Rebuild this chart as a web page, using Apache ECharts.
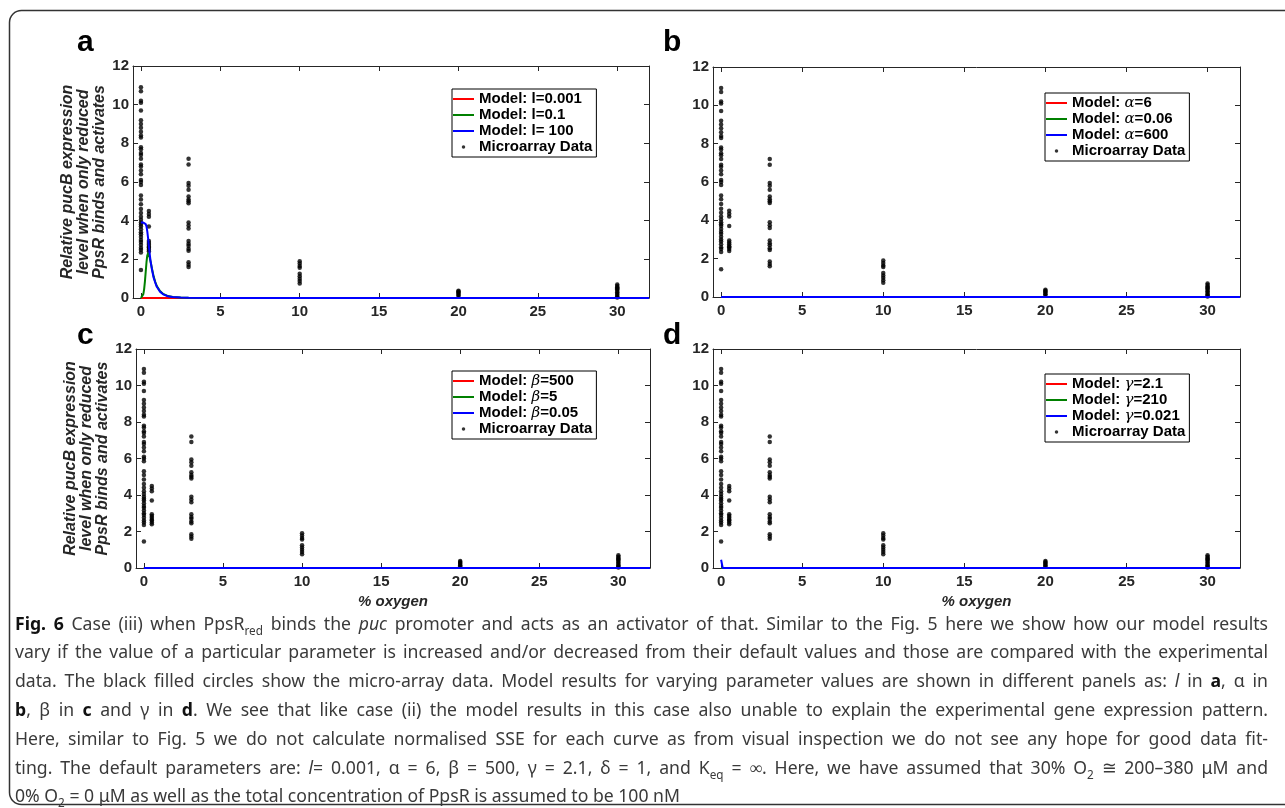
<!DOCTYPE html>
<html>
<head>
<meta charset="utf-8">
<script src="https://cdn.jsdelivr.net/npm/echarts@6/dist/echarts.min.js"></script>
<style>
html,body{margin:0;padding:0;background:#fff;}
#main{width:1285px;height:808px;}
</style>
</head>
<body>
<div id="main"></div>
<script>
// microarray data: relative pucB expression at each oxygen level (%)
var oxygenLevels = [0, 0.5, 3, 10, 20, 30];
var exprAt0 = [10.9, 10.7, 10.2, 10.1, 9.7, 9.2, 9.0, 8.8, 8.6, 8.4, 8.3, 7.8, 7.7, 7.5, 7.4, 7.2, 6.9, 6.8, 6.6, 6.4, 6.1, 6.0, 5.85, 5.3, 5.1, 4.85, 4.6, 4.4, 4.2, 4.05, 3.9, 3.8, 3.7, 3.55, 3.4, 3.3, 3.15, 3.0, 2.9, 2.75, 2.6, 2.5, 2.35, 1.45];
var exprAt05 = [4.5, 4.35, 4.2, 3.7, 2.95, 2.85, 2.75, 2.65, 2.6, 2.5, 2.4];
var exprAt3 = [7.2, 6.9, 5.95, 5.8, 5.6, 5.25, 5.1, 5.0, 4.9, 3.9, 3.75, 3.6, 2.95, 2.8, 2.7, 2.55, 2.45, 1.85, 1.72, 1.6];
var exprAt10 = [1.9, 1.78, 1.65, 1.56, 1.25, 1.12, 1.0, 0.88, 0.75];
var exprAt20 = [0.38, 0.33, 0.28, 0.22, 0.15, 0.1];
var exprAt30 = [0.7, 0.62, 0.55, 0.5, 0.45, 0.38, 0.3, 0.22, 0.15, 0.08, 0.03];
var exprLists = [exprAt0, exprAt05, exprAt3, exprAt10, exprAt20, exprAt30];

// model curves, panel a
var modelX = [0, 0.05, 0.1, 0.15, 0.2, 0.25, 0.3, 0.35, 0.4, 0.45, 0.5, 0.55, 0.6, 0.7, 0.8, 0.9, 1.0, 1.2, 1.4, 1.7, 2.0, 2.5, 3, 5, 10, 20, 32];
var aRed   = [0, 0, 0, 0, 0, 0, 0, 0, 0, 0, 0, 0, 0, 0, 0, 0, 0, 0, 0, 0, 0, 0, 0, 0, 0, 0, 0];
var aGreen = [0, 0.02, 0.08, 0.2, 0.45, 0.85, 1.35, 1.85, 2.2, 2.32, 2.25, 2.1, 1.9, 1.5, 1.12, 0.84, 0.62, 0.36, 0.21, 0.1, 0.05, 0.02, 0.01, 0, 0, 0, 0];
var aBlue  = [3.9, 3.9, 3.9, 3.9, 3.9, 3.88, 3.82, 3.7, 3.45, 3.1, 2.7, 2.3, 1.95, 1.45, 1.05, 0.8, 0.58, 0.33, 0.19, 0.09, 0.05, 0.02, 0.01, 0, 0, 0, 0];
// panels b, c, d: curves stay on zero
var flatX = [0, 0.1, 32];
var flatZero = [0, 0, 0];
var dBlue = [0.45, 0, 0];

var xTicks = [0, 5, 10, 15, 20, 25, 30];

var panels = [
  {names: ['Model: l=0.001', 'Model: l=0.1', 'Model: l= 100'],
   curves: [[modelX, aRed], [modelX, aGreen], [modelX, aBlue]]},
  {names: ['Model: α=6', 'Model: α=0.06', 'Model: α=600'],
   curves: [[flatX, flatZero], [flatX, flatZero], [flatX, flatZero]]},
  {names: ['Model: β=500', 'Model: β=5', 'Model: β=0.05'],
   curves: [[flatX, flatZero], [flatX, flatZero], [flatX, flatZero]]},
  {names: ['Model: γ=2.1', 'Model: γ=210', 'Model: γ=0.021'],
   curves: [[flatX, flatZero], [flatX, flatZero], [flatX, dBlue]]}
];
var lineColors = ['#ff0000', '#008000', '#0000ff'];

var grids = [
  {left: 133, top: 66, width: 516, height: 232},
  {left: 713, top: 67, width: 527, height: 230},
  {left: 136, top: 349, width: 514, height: 219},
  {left: 713, top: 349, width: 527, height: 219}
];
var legendPos = [[452, 89], [1045, 93], [452, 371], [1045, 374]];

var axisColor = '#262626';
var labelFont = {fontFamily: 'Liberation Sans', fontWeight: 'bold', fontSize: 15, color: axisColor};
var yName = 'Relative pucB expression\nlevel when only reduced\nPpsR binds and activates';
var lineIcon = 'path://M0,0 L21,0 L21,2 L0,2 Z';

var scatterData = [];
oxygenLevels.forEach(function (x, k) {
  exprLists[k].forEach(function (v) { scatterData.push([x, v]); });
});

var xAxes = [], yAxes = [], series = [], legends = [];
grids.forEach(function (g, i) {
  var common = {
    type: 'value', gridIndex: i, min: -0.5, max: 32,
    splitLine: {show: false},
    axisLine: {onZero: false, lineStyle: {color: axisColor, width: 1}},
    axisTick: {inside: true, length: 5, customValues: xTicks, lineStyle: {color: axisColor}}
  };
  var bottom = Object.assign({}, common, {
    position: 'bottom',
    axisLabel: Object.assign({customValues: xTicks, margin: 6}, labelFont)
  });
  if (i >= 2) {
    bottom.name = '% oxygen';
    bottom.nameLocation = 'middle';
    bottom.nameGap = 26;
    bottom.nameTextStyle = {fontFamily: 'Liberation Sans', fontWeight: 'bold', fontStyle: 'italic', fontSize: 15, color: axisColor};
  }
  xAxes.push(bottom);
  xAxes.push(Object.assign({}, common, {position: 'top', axisLabel: {show: false}}));

  var ycommon = {
    type: 'value', gridIndex: i, min: 0, max: 12, interval: 2,
    splitLine: {show: false},
    axisLine: {onZero: false, lineStyle: {color: axisColor, width: 1}},
    axisTick: {inside: true, length: 5, lineStyle: {color: axisColor}}
  };
  var left = Object.assign({}, ycommon, {
    position: 'left',
    axisLabel: Object.assign({margin: 4}, labelFont)
  });
  if (i === 0 || i === 2) {
    left.name = yName;
    left.nameLocation = 'middle';
    left.nameRotate = 90;
    left.nameGap = 25;
    left.nameTextStyle = {fontFamily: 'Liberation Sans', fontWeight: 'bold', fontStyle: 'italic', fontSize: 16, lineHeight: 16, color: axisColor};
  }
  yAxes.push(left);
  yAxes.push(Object.assign({}, ycommon, {position: 'right', axisLabel: {show: false}}));

  var p = panels[i];
  p.curves.forEach(function (c, k) {
    series.push({
      type: 'line', name: p.names[k],
      xAxisIndex: 2 * i, yAxisIndex: 2 * i,
      data: c[0].map(function (x, j) { return [x, c[1][j]]; }),
      symbol: 'none', showSymbol: false,
      lineStyle: {color: lineColors[k], width: 2},
      itemStyle: {color: lineColors[k]},
      animation: false
    });
  });
  series.push({
    type: 'scatter', name: 'Microarray Data',
    xAxisIndex: 2 * i, yAxisIndex: 2 * i,
    data: scatterData, symbolSize: 4.5,
    itemStyle: {color: '#000'},
    animation: false
  });

  var items = p.names.map(function (n) { return {name: n, icon: lineIcon}; });
  items.push({name: 'Microarray Data', icon: 'circle'});
  legends.push({
    orient: 'vertical', left: legendPos[i][0], top: legendPos[i][1],
    data: items,
    itemWidth: 21, itemHeight: 3.5, itemGap: 0,
    padding: [2, 4, 2, 1],
    borderColor: '#000', borderWidth: 1, borderRadius: 0,
    backgroundColor: '#fff',
    selectedMode: false,
    formatter: function (name) {
      return name.replace(/([αβγ])/, '{g|$1}');
    },
    textStyle: {
      fontFamily: 'Liberation Sans', fontWeight: 'bold', fontSize: 15, lineHeight: 16, color: '#000',
      rich: {g: {fontFamily: 'DejaVu Serif', fontStyle: 'italic', fontWeight: 'normal', fontSize: 15, lineHeight: 16, color: '#000'}}
    }
  });
});

// caption
var capSize = 18;
var capFamily = 'Noto Sans';
var capStyles = {
  n: {fontSize: capSize, fontWeight: 'normal', fontStyle: 'normal', fill: '#3a3a3a'},
  b: {fontSize: capSize, fontWeight: 'bold', fontStyle: 'normal', fill: '#111'},
  i: {fontSize: capSize, fontWeight: 'normal', fontStyle: 'italic', fill: '#3a3a3a'},
  s: {fontSize: 12, fontWeight: 'normal', fontStyle: 'normal', fill: '#3a3a3a', verticalAlign: 'bottom', lineHeight: 25}
};
var captionLines = [
  [['b', 'Fig. 6'], ['n', ' Case (iii) when PpsR'], ['s', 'red'], ['n', ' binds the '], ['i', 'puc'], ['n', ' promoter and acts as an activator of that. Similar to the Fig. 5 here we show how our model results']],
  [['n', 'vary if the value of a particular parameter is increased and/or decreased from their default values and those are compared with the experimental']],
  [['n', 'data. The black filled circles show the micro-array data. Model results for varying parameter values are shown in different panels as: '], ['i', 'l'], ['n', ' in '], ['b', 'a'], ['n', ', α in']],
  [['b', 'b'], ['n', ', β in '], ['b', 'c'], ['n', ' and γ in '], ['b', 'd'], ['n', '. We see that like case (ii) the model results in this case also unable to explain the experimental gene expression pattern.']],
  [['n', 'Here, similar to Fig. 5 we do not calculate normalised SSE for each curve as from visual inspection we do not see any hope for good data fit-']],
  [['n', 'ting. The default parameters are: '], ['i', 'l'], ['n', '= 0.001, α = 6, β = 500, γ = 2.1, δ = 1, and K'], ['s', 'eq'], ['n', ' = ∞. Here, we have assumed that 30% O'], ['s', '2'], ['n', ' ≅ 200–380 μM and']],
  [['n', '0% O'], ['s', '2'], ['n', ' = 0 μM as well as the total concentration of PpsR is assumed to be 100 nM']]
];
var captionY = [625, 653, 682, 711, 740, 769, 797];
var captionJustify = [true, true, true, true, true, true, false];
var captionFull = 1253;
var lastLineWidth = 665;

var ctx = document.createElement('canvas').getContext('2d');
function fontOf(s) { return s.fontStyle + ' ' + s.fontWeight + ' ' + s.fontSize + 'px "' + capFamily + '"'; }
function measureLine(segs) {
  var w = 0, spaces = 0;
  segs.forEach(function (sg) {
    ctx.font = fontOf(capStyles[sg[0]]);
    w += ctx.measureText(sg[1]).width;
    spaces += sg[1].split(' ').length - 1;
  });
  return {w: w, spaces: spaces};
}
ctx.font = fontOf(capStyles.n);
var spaceW = ctx.measureText(' ').width;
// common horizontal squeeze taken from the unjustified last line
var capScale = lastLineWidth / measureLine(captionLines[6]).w;

var graphics = [{
  type: 'rect', silent: true,
  shape: {x: 9.5, y: 10.5, width: 1300, height: 794, r: 12},
  style: {fill: 'none', stroke: '#333', lineWidth: 1.5}
}];
[['a', 77, 43], ['b', 663, 43], ['c', 77, 336], ['d', 663, 336]].forEach(function (t) {
  graphics.push({type: 'text', x: t[1], y: t[2], style: {text: t[0], font: 'bold 30px "Liberation Sans"', fill: '#000', verticalAlign: 'middle'}});
});
captionLines.forEach(function (segs, li) {
  var m = measureLine(segs);
  var sc = capScale, sp = spaceW;
  if (captionJustify[li]) {
    var extra = captionFull / sc - m.w;
    if (extra < 0) { sc = captionFull / m.w; }
    else { sp = spaceW + extra / m.spaces; }
  }
  var rich = {};
  Object.keys(capStyles).forEach(function (k) {
    rich[k] = Object.assign({fontFamily: capFamily, lineHeight: 22, verticalAlign: 'middle'}, capStyles[k]);
  });
  rich.sp = Object.assign({}, rich.n, {width: sp});
  var str = '';
  segs.forEach(function (sg) {
    var parts = sg[1].split(' ');
    parts.forEach(function (part, j) {
      if (j > 0) str += '{sp| }';
      if (part.length) str += '{' + sg[0] + '|' + part + '}';
    });
  });
  graphics.push({
    type: 'text', x: 15, y: captionY[li], scaleX: sc,
    style: {text: str, rich: rich, verticalAlign: 'middle', font: capSize + 'px "' + capFamily + '"'}
  });
});

var myChart = echarts.init(document.getElementById('main'));
var option = {
  animation: false,
  backgroundColor: '#fff',
  grid: grids,
  xAxis: xAxes,
  yAxis: yAxes,
  legend: legends,
  series: series,
  graphic: graphics
};
myChart.setOption(option);
</script>
</body>
</html>
